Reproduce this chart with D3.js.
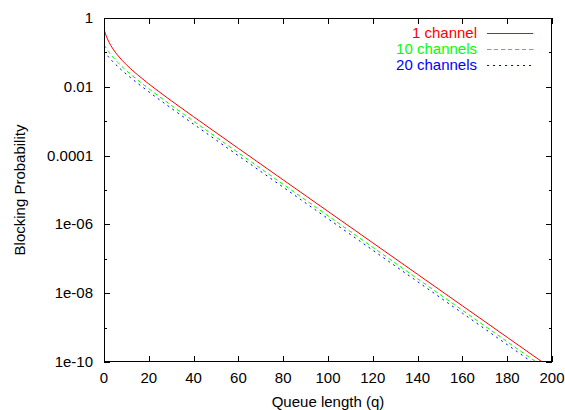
<!DOCTYPE html>
<html>
<head>
<meta charset="utf-8">
<script src="https://cdn.jsdelivr.net/npm/d3@7"></script>
<style>
  body { margin: 0; background: #fff; }
  svg { font-family: "Liberation Sans", Arial, sans-serif; }
</style>
</head>
<body>
<div id="chart_div"></div>
<script>
// queue length samples
var qValues = [0, 1, 2, 3, 4, 5, 6, 8, 10, 12, 15, 20, 25, 30, 40, 50, 60, 80, 100, 120, 140, 160, 180, 200];

// blocking probability per series
var oneChannel = [0.47368, 0.29889, 0.21198, 0.16022, 0.12602, 0.10187, 0.083981, 0.059482, 0.043733, 0.032959,
  0.022239, 0.012137, 0.0068600, 0.0039509, 0.0013464, 4.6578e-4, 1.6197e-4, 1.9666e-5, 2.3906e-6, 2.9063e-7,
  3.5334e-8, 4.2958e-9, 5.2227e-10, 6.3496e-11];
var tenChannels = [0.167964, 0.131317, 0.105694, 0.086862, 0.072507, 0.061259, 0.052252, 0.038852, 0.029510, 0.022755,
  0.015716, 0.0087722, 0.0050175, 0.0029091, 9.9731e-4, 3.4572e-4, 1.2030e-4, 1.4612e-5, 1.7763e-6, 2.1595e-7,
  2.6255e-8, 3.1919e-9, 3.8807e-10, 4.7180e-11];
var twentyChannels = [0.109220, 0.089501, 0.074545, 0.062873, 0.053555, 0.045983, 0.039740, 0.030141, 0.023218, 0.018088,
  0.012629, 0.0071259, 0.0041000, 0.0023850, 8.2011e-4, 2.8459e-4, 9.9066e-5, 1.2035e-5, 1.4630e-6, 1.7786e-7,
  2.1624e-8, 2.6290e-9, 3.1962e-10, 3.8859e-11];

var seriesNames = ["1 channel", "10 channels", "20 channels"];
var seriesColors = ["#ff0000", "#00ff00", "#0000ff"];
var seriesDash = ["none", "4,3", "2,4"];

var xTicks = [0, 20, 40, 60, 80, 100, 120, 140, 160, 180, 200];
var yMajor = [1, 1e-2, 1e-4, 1e-6, 1e-8, 1e-10];
var yMajorLabels = ["1", "0.01", "0.0001", "1e-06", "1e-08", "1e-10"];
var yMinor = [1e-1, 1e-3, 1e-5, 1e-7, 1e-9];

var W = 565, H = 410;
var m = {left: 104, right: 552, top: 18, bottom: 362};

var x = d3.scaleLinear().domain([0, 200]).range([m.left, m.right]);
var y = d3.scaleLog().domain([1e-10, 1]).range([m.bottom, m.top]);

var svg = d3.select("#chart_div").append("svg")
    .attr("width", W)
    .attr("height", H);

svg.append("defs").append("clipPath").attr("id", "clip")
  .append("rect")
    .attr("x", m.left).attr("y", m.top)
    .attr("width", m.right - m.left).attr("height", m.bottom - m.top);

// ticks (inward, mirrored)
var tk = svg.append("g").attr("stroke", "#000").attr("stroke-width", 1);
xTicks.forEach(function(t) {
  var px = Math.round(x(t)) + 0.5;
  tk.append("line").attr("x1", px).attr("x2", px).attr("y1", m.bottom).attr("y2", m.bottom - 6);
  tk.append("line").attr("x1", px).attr("x2", px).attr("y1", m.top).attr("y2", m.top + 6);
});
yMajor.forEach(function(t) {
  var py = Math.round(y(t)) + 0.5;
  tk.append("line").attr("x1", m.left).attr("x2", m.left + 6).attr("y1", py).attr("y2", py);
  tk.append("line").attr("x1", m.right).attr("x2", m.right - 6).attr("y1", py).attr("y2", py);
});
yMinor.forEach(function(t) {
  var py = Math.round(y(t)) + 0.5;
  tk.append("line").attr("x1", m.left).attr("x2", m.left + 3).attr("y1", py).attr("y2", py);
  tk.append("line").attr("x1", m.right).attr("x2", m.right - 3).attr("y1", py).attr("y2", py);
});

// tick labels
svg.append("g").selectAll("text")
  .data(xTicks)
  .enter().append("text")
    .attr("x", function(d) { return x(d); })
    .attr("y", 383)
    .attr("text-anchor", "middle")
    .attr("font-size", 15)
    .text(function(d) { return d; });

svg.append("g").selectAll("text")
  .data(yMajor)
  .enter().append("text")
    .attr("x", 93)
    .attr("y", function(d) { return y(d) + 5; })
    .attr("text-anchor", "end")
    .attr("font-size", 15)
    .text(function(d, i) { return yMajorLabels[i]; });

// axis titles
svg.append("text")
    .attr("x", (m.left + m.right) / 2)
    .attr("y", 407)
    .attr("text-anchor", "middle")
    .attr("font-size", 15)
    .text("Queue length (q)");

svg.append("text")
    .attr("transform", "translate(25," + ((m.top + m.bottom) / 2) + ") rotate(-90)")
    .attr("text-anchor", "middle")
    .attr("font-size", 15)
    .text("Blocking Probability");

// curves
var line = d3.line()
    .x(function(d) { return x(d[0]); })
    .y(function(d) { return y(d[1]); });

var allSeries = [oneChannel, tenChannels, twentyChannels];
var plot = svg.append("g").attr("clip-path", "url(#clip)");
for (var i = allSeries.length - 1; i >= 0; i--) {
  var vals = allSeries[i];
  plot.append("path")
    .datum(qValues.map(function(q, j) { return [q, vals[j]]; }))
    .attr("fill", "none")
    .attr("stroke", seriesColors[i])
    .attr("stroke-width", 1)
    .attr("stroke-dasharray", seriesDash[i])
    .attr("d", line);
}

// border
svg.append("rect")
    .attr("x", m.left + 0.5).attr("y", m.top + 0.5)
    .attr("width", m.right - m.left - 1).attr("height", m.bottom - m.top - 1)
    .attr("fill", "none")
    .attr("stroke", "#000")
    .attr("stroke-width", 1);

// legend
var leg = svg.append("g");
seriesNames.forEach(function(name, k) {
  var cy = 33 + k * 16;
  leg.append("text")
    .attr("x", 477)
    .attr("y", cy + 5)
    .attr("text-anchor", "end")
    .attr("font-size", 15)
    .attr("fill", seriesColors[k])
    .text(name);
  leg.append("line")
    .attr("x1", 487).attr("x2", 533)
    .attr("y1", cy + 0.5).attr("y2", cy + 0.5)
    .style("stroke", seriesColors[k])
    .style("stroke-width", 1)
    .style("stroke-dasharray", seriesDash[k]);
});
</script>
</body>
</html>
